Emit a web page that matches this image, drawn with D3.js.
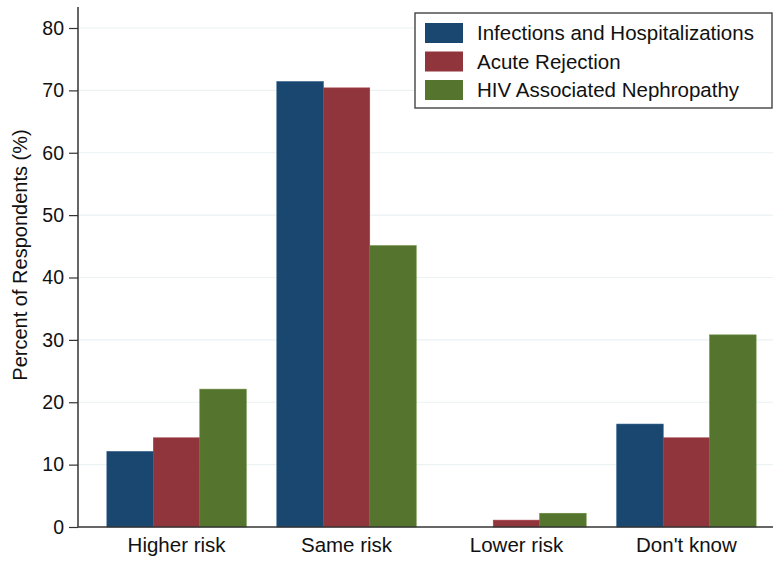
<!DOCTYPE html>
<html>
<head>
<meta charset="utf-8">
<script src="https://cdn.jsdelivr.net/npm/d3@7"></script>
<style>
  body { margin: 0; background: #fff; }
  svg { font-family: "Liberation Sans", Arial, Helvetica, sans-serif; }
</style>
</head>
<body>
<div id="chart"></div>
<script>
// data
var categories = ['Higher risk', 'Same risk', 'Lower risk', "Don't know"];
var seriesNames = ['Infections and Hospitalizations', 'Acute Rejection', 'HIV Associated Nephropathy'];
var infections = [12.1, 71.4, 0, 16.5];
var rejection = [14.3, 70.4, 1.1, 14.3];
var nephropathy = [22.1, 45.1, 2.2, 30.8];
var yTicks = [0, 10, 20, 30, 40, 50, 60, 70, 80];
var colors = ['#1a476f', '#90353b', '#55752f'];

var width = 773, height = 562;
var svg = d3.select('#chart').append('svg').attr('width', width).attr('height', height);

var series = [infections, rejection, nephropathy];
var rows = categories.map(function(c, i) {
  return { cat: c, vals: series.map(function(s, j) { return { key: seriesNames[j], v: s[i], k: j } }) }
});

var left = 78, bottom = 527;
var yScale = d3.scaleLinear().domain([0, 80]).range([bottom, 28]);
var xScale = d3.scaleBand().domain(categories).range([left, 785]).paddingInner(0.18).paddingOuter(0.17);
var xInner = d3.scaleBand().domain(seriesNames).range([0, xScale.bandwidth()]);

// gridlines
svg.append('g').selectAll('line').data(yTicks.slice(1)).enter().append('line')
  .attr('x1', left).attr('x2', width)
  .attr('y1', function(d) { return yScale(d) }).attr('y2', function(d) { return yScale(d) })
  .attr('stroke', '#eaf2f3').attr('stroke-width', 1.2);

// bars
var groups = svg.selectAll('.grp').data(rows).enter().append('g')
  .attr('transform', function(d) { return 'translate(' + xScale(d.cat) + ',0)' });
groups.selectAll('rect').data(function(d) { return d.vals }).enter().append('rect')
  .attr('x', function(d) { return xInner(d.key) })
  .attr('width', xInner.bandwidth())
  .attr('y', function(d) { return yScale(d.v) })
  .attr('height', function(d) { return bottom - yScale(d.v) })
  .style('fill', function(d) { return colors[d.k] })
  .style('stroke', function(d) { return d.v > 0 ? d3.color(colors[d.k]).brighter(0.4) : 'none' })
  .style('stroke-width', 0.6);

// y axis
var yAxis = d3.axisLeft(yScale).tickValues(yTicks).tickSize(9).tickPadding(5);
var gy = svg.append('g').attr('transform', 'translate(' + left + ',0)').call(yAxis);
gy.select('.domain').attr('d', 'M0,7V' + bottom).attr('stroke', '#333').attr('stroke-width', 1.5);
gy.selectAll('.tick line').attr('stroke', '#333').attr('stroke-width', 1.2);
gy.selectAll('.tick text').style('font-size', '19.5px').attr('fill', '#111');

// x axis
var xAxis = d3.axisBottom(xScale).tickSize(0).tickPadding(10);
var gx = svg.append('g').attr('transform', 'translate(0,' + bottom + ')').call(xAxis);
gx.select('.domain').attr('d', 'M' + left + ',0H' + width).attr('stroke', '#333').attr('stroke-width', 1.5);
gx.selectAll('.tick text').style('font-size', '20.5px').attr('fill', '#111');

// y title
svg.append('text')
  .attr('transform', 'translate(27,255) rotate(-90)')
  .attr('text-anchor', 'middle')
  .style('font-size', '20px').attr('fill', '#111')
  .text('Percent of Respondents (%)');

// legend
var legend = svg.append('g');
legend.append('rect').attr('x', 415).attr('y', 13).attr('width', 357).attr('height', 95)
  .attr('fill', '#fff').attr('stroke', '#444').attr('stroke-width', 1.4);
var items = legend.selectAll('.item').data(seriesNames).enter().append('g')
  .attr('transform', function(d, i) { return 'translate(425,' + (23 + i * 28.5) + ')' });
items.append('rect').attr('width', 38).attr('height', 20)
  .style('fill', function(d, i) { return colors[i] });
items.append('text').attr('x', 52).attr('y', 10).attr('dy', '0.35em')
  .style('font-size', '20.5px').attr('fill', '#111')
  .text(function(d) { return d });
</script>
</body>
</html>
